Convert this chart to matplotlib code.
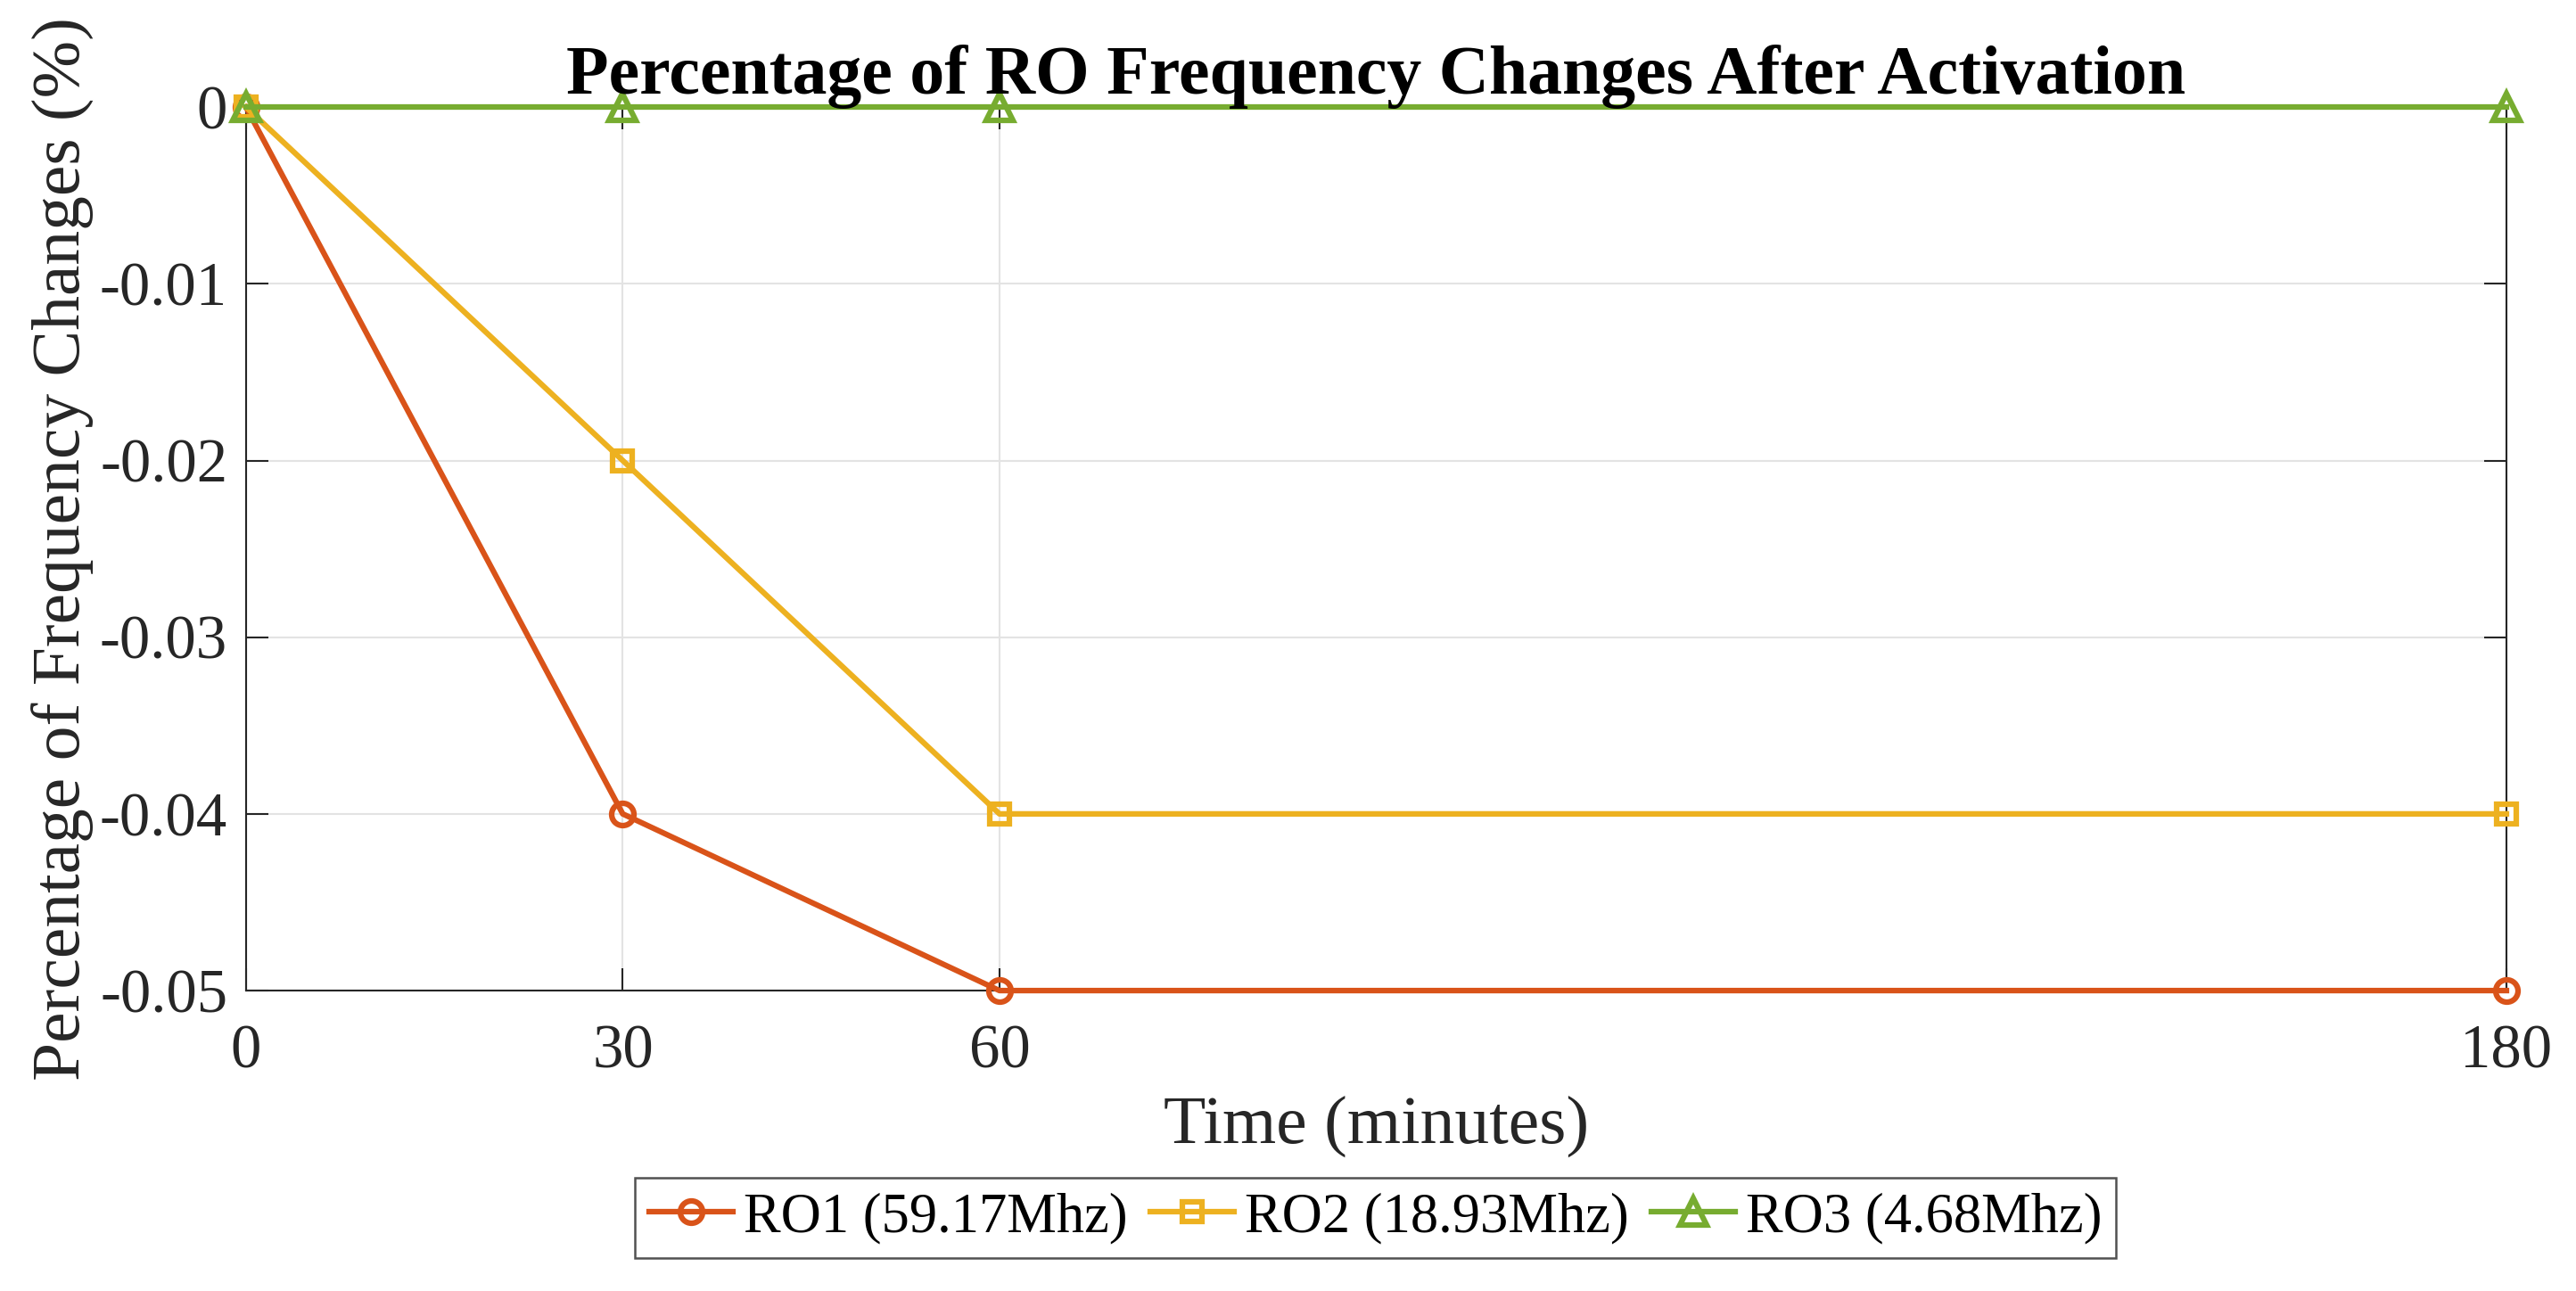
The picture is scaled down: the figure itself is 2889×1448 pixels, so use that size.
import matplotlib
matplotlib.use("Agg")
import matplotlib.pyplot as plt

plt.rcParams['font.family'] = ['Liberation Serif', 'DejaVu Serif']
plt.rcParams['axes.unicode_minus'] = False

# data
time_min = [0, 30, 60, 180]
ro1 = [0, -0.04, -0.05, -0.05]
ro2 = [0, -0.02, -0.04, -0.04]
ro3 = [0, 0, 0, 0]
labels = ['RO1 (59.17Mhz)', 'RO2 (18.93Mhz)', 'RO3 (4.68Mhz)']
yticks = [0, -0.01, -0.02, -0.03, -0.04, -0.05]
ytick_labels = ['0', '-0.01', '-0.02', '-0.03', '-0.04', '-0.05']

colors = ['#D95319', '#EDB120', '#77AC30']
markers = ['o', 's', '^']
msizes = [6, 5.5, 7]

fig = plt.figure(figsize=(2889/300, 1448/300), dpi=300)
ax = fig.add_axes([0.0955, 0.2327, 0.973-0.0955, 0.917-0.2327])

for ys, c, m, ms, lab in zip([ro1, ro2, ro3], colors, markers, msizes, labels):
    ax.plot(time_min, ys, color=c, marker=m, markersize=ms, markerfacecolor='none',
            markeredgewidth=1.5, linewidth=1.5, label=lab, clip_on=False, zorder=3)

ax.set_xlim(0, 180)
ax.set_ylim(-0.05, 0)
ax.set_xticks(time_min)
ax.set_xticklabels([str(t) for t in time_min])
ax.set_yticks(yticks)
ax.set_yticklabels(ytick_labels)

ax.grid(True, color='#e3e3e3', linewidth=0.5)
ax.set_axisbelow(True)
for s in ax.spines.values():
    s.set_color('#262626')
    s.set_linewidth(0.5)
ax.tick_params(direction='in', length=6, width=0.5, colors='#262626',
               top=True, right=True, labelsize=16.5)
ax.tick_params(axis='x', pad=9)
ax.tick_params(axis='y', pad=5)
for t in ax.get_xticklabels() + ax.get_yticklabels():
    t.set_color('#262626')

ax.set_xlabel('Time (minutes)', fontsize=18.6, color='#262626', labelpad=4)
ax.set_ylabel('Percentage of Frequency Changes (%)', fontsize=18.6, color='#262626', labelpad=1.5)
ax.set_title('Percentage of RO Frequency Changes After Activation', fontsize=18.7,
             fontweight='bold', pad=3.6)

leg = fig.legend(loc='center', bbox_to_anchor=(0.534, 0.0566), ncol=3, fontsize=15,
                 frameon=True, fancybox=False, edgecolor='#262626', handlelength=1.5,
                 handletextpad=0.2, columnspacing=0.4, borderpad=0.25)
leg.get_frame().set_linewidth(0.6)

fig.savefig('out.png', dpi=300)
